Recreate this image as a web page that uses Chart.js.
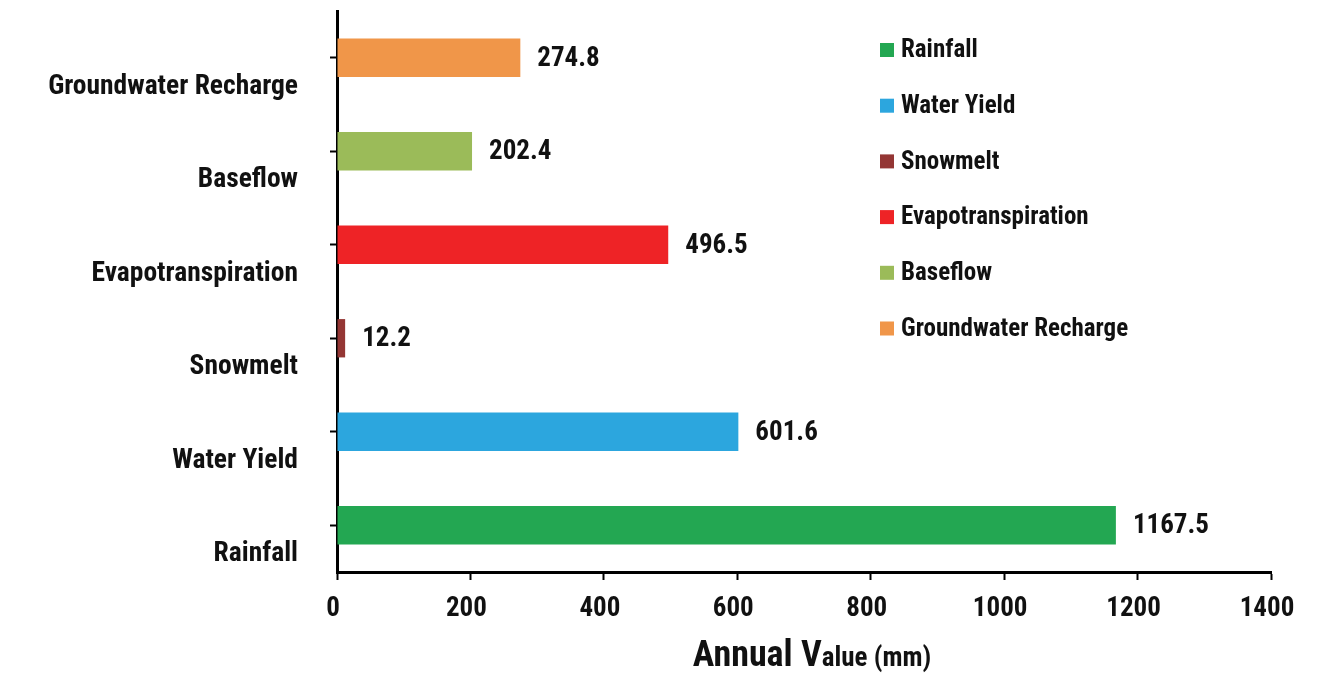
<!DOCTYPE html>
<html>
<head>
<meta charset="utf-8">
<script src="https://cdn.jsdelivr.net/npm/chart.js@4.4.1/dist/chart.umd.min.js"></script>
<style>
  html, body { margin: 0; padding: 0; background: #fff; }
  #wrap { width: 1329px; height: 675px; }
</style>
</head>
<body>
<div id="wrap"><canvas id="myChart" width="1329" height="675"></canvas></div>
<script>
// data, bottom to top
const categories = ['Rainfall', 'Water Yield', 'Snowmelt', 'Evapotranspiration', 'Baseflow', 'Groundwater Recharge'];
const annualValues = [1167.5, 601.6, 12.2, 496.5, 202.4, 274.8];
const barColors = ['#23a752', '#2ca6de', '#943634', '#ee2326', '#9bbb59', '#f09649'];
const xTicks = [0, 200, 400, 600, 800, 1000, 1200, 1400];

const FONT = '"Roboto Condensed", "Roboto", sans-serif';
const INK = '#111';

// numbers at the end of each bar
const valueLabels = {
  id: 'valueLabels',
  afterDatasetsDraw(chart) {
    const ctx = chart.ctx;
    const meta = chart.getDatasetMeta(0);
    ctx.save();
    ctx.font = 'bold 27px ' + FONT;
    ctx.fillStyle = INK;
    ctx.textAlign = 'left';
    ctx.textBaseline = 'middle';
    meta.data.forEach((bar, i) => {
      ctx.fillText(annualValues[i].toFixed(1), bar.x + 17, bar.y + 1);
    });
    ctx.restore();
  }
};

// legend inside the plot, top right
const innerLegend = {
  id: 'innerLegend',
  afterDraw(chart) {
    const ctx = chart.ctx;
    const area = chart.chartArea;
    const x0 = area.left + 543;
    const y0 = area.top + 39;
    const step = 55.7;
    ctx.save();
    ctx.font = 'bold 25px ' + FONT;
    ctx.textBaseline = 'middle';
    categories.forEach((name, i) => {
      const y = y0 + i * step;
      ctx.fillStyle = barColors[i];
      ctx.fillRect(x0, y - 7, 14, 14);
      ctx.fillStyle = INK;
      ctx.fillText(name, x0 + 21, y + 1);
    });
    ctx.restore();
  }
};

// axis title with the big "Annual V" and smaller rest
const axisTitle = {
  id: 'axisTitle',
  afterDraw(chart) {
    const ctx = chart.ctx;
    const area = chart.chartArea;
    const big = 'Annual V';
    const small = 'alue (mm)';
    ctx.save();
    ctx.fillStyle = INK;
    ctx.textBaseline = 'alphabetic';
    ctx.font = 'bold 36px ' + FONT;
    const wBig = ctx.measureText(big).width;
    ctx.font = 'bold 27px ' + FONT;
    const wSmall = ctx.measureText(small).width;
    let x = (area.left + area.right) / 2 + 8 - (wBig + wSmall) / 2;
    const base = chart.height - 9;
    ctx.font = 'bold 36px ' + FONT;
    ctx.fillText(big, x, base);
    ctx.font = 'bold 27px ' + FONT;
    ctx.fillText(small, x + wBig, base);
    ctx.restore();
  }
};

const ctx = document.getElementById('myChart').getContext('2d');
const myChart = new Chart(ctx, {
  type: 'bar',
  data: {
    labels: categories,
    datasets: [{
      label: 'Annual Value (mm)',
      data: annualValues,
      backgroundColor: barColors,
      borderWidth: 0,
      barPercentage: 0.41,
      categoryPercentage: 1
    }]
  },
  options: {
    indexAxis: 'y',
    responsive: false,
    animation: false,
    layout: { padding: { top: 11, right: 58, left: 0, bottom: 0 } },
    plugins: {
      legend: { display: false },
      tooltip: { enabled: false }
    },
    scales: {
      x: {
        min: 0,
        max: 1400,
        afterBuildTicks: scale => { scale.ticks = xTicks.map(v => ({ value: v })); },
        afterFit: scale => { scale.height = 103; },
        border: { color: '#000', width: 3 },
        grid: { drawOnChartArea: false, drawTicks: true, tickLength: 8, tickColor: '#000', tickWidth: 2 },
        ticks: {
          padding: 13,
          labelOffset: -4,
          color: INK,
          font: { family: FONT, size: 27, weight: 'bold' },
          callback: v => String(v)
        }
      },
      y: {
        reverse: true,
        afterFit: scale => { scale.width = 337; scale.paddingTop = 0; scale.paddingBottom = 0; },
        border: { color: '#000', width: 3 },
        grid: { offset: false, drawOnChartArea: false, drawTicks: true, tickLength: 7, tickColor: '#000', tickWidth: 2 },
        ticks: {
          padding: 32,
          labelOffset: 29,
          color: INK,
          font: { family: FONT, size: 27.5, weight: 'bold' }
        }
      }
    }
  },
  plugins: [valueLabels, innerLegend, axisTitle]
});
</script>
</body>
</html>
